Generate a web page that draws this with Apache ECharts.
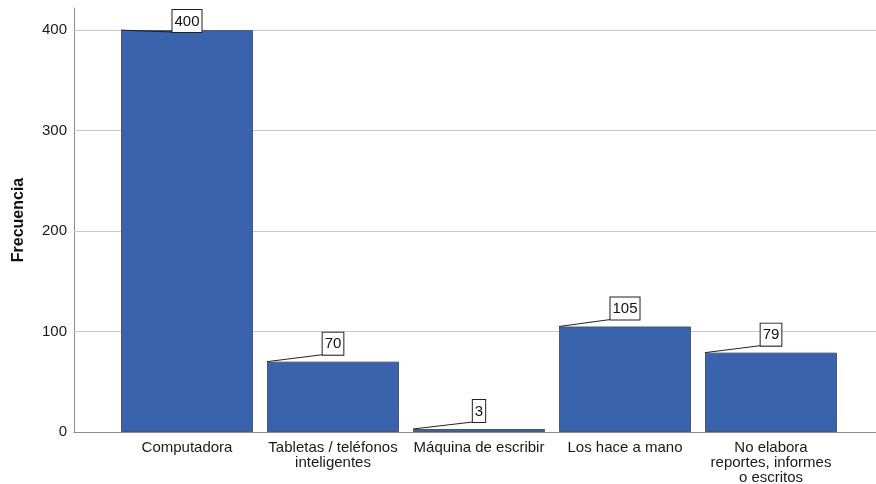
<!DOCTYPE html>
<html>
<head>
<meta charset="utf-8">
<script src="https://cdn.jsdelivr.net/npm/echarts@6/dist/echarts.min.js"></script>
<style>html,body{margin:0;padding:0;background:#fff;}#c{width:876px;height:484px;}</style>
</head>
<body>
<div id="c"></div>
<script>
const categories = ['Computadora', 'Tabletas / teléfonos\ninteligentes', 'Máquina de escribir', 'Los hace a mano', 'No elabora\nreportes, informes\no escritos'];
const frecuencias = [400, 70, 3, 105, 79];
const yTicks = [0, 100, 200, 300, 400];
const yMax = 422;
const yTitle = 'Frecuencia';

const FONT = '"Liberation Sans", Arial, sans-serif';
const measureCtx = document.createElement('canvas').getContext('2d');
measureCtx.font = '15px ' + FONT;

const chart = echarts.init(document.getElementById('c'), null, {renderer: 'canvas'});
const gridTop = 8, gridBottom = 52;

chart.setOption({
  animation: false,
  textStyle: {fontFamily: FONT},
  grid: [
    {left: 74, right: 0, top: gridTop, bottom: gridBottom, containLabel: false, outerBoundsMode: 'none'},
    {left: 114, right: 32, top: gridTop, bottom: gridBottom, containLabel: false, outerBoundsMode: 'none'}
  ],
  xAxis: [
    {gridIndex: 0, type: 'value', min: 0, max: 1,
     axisLine: {show: true, lineStyle: {color: '#8a8a8a', width: 1}},
     axisTick: {show: false}, axisLabel: {show: false}, splitLine: {show: false}},
    {gridIndex: 1, type: 'category', data: categories,
     axisLine: {show: false}, axisTick: {show: false}, splitLine: {show: false},
     axisLabel: {interval: 0, fontSize: 15, lineHeight: 15, color: '#1a1a1a', margin: 8, fontFamily: FONT}}
  ],
  yAxis: [
    {gridIndex: 0, type: 'value', min: 0, max: yMax, interval: 100,
     name: yTitle, nameLocation: 'middle', nameRotate: 90, nameGap: 47,
     nameTextStyle: {fontSize: 16, fontWeight: 'bold', color: '#111', fontFamily: FONT},
     axisLine: {show: true, lineStyle: {color: '#8a8a8a', width: 1}},
     axisTick: {show: false}, splitLine: {show: false},
     axisLabel: {showMaxLabel: false, fontSize: 15, color: '#1a1a1a', margin: 7, fontFamily: FONT}},
    {gridIndex: 1, type: 'value', min: 0, max: yMax, show: false}
  ],
  series: [
    {type: 'line', xAxisIndex: 0, yAxisIndex: 0, data: [], silent: true, z: 1,
     markLine: {silent: true, symbol: 'none', z: 1, label: {show: false},
       lineStyle: {color: '#c8c8c8', width: 1, type: 'solid'},
       data: yTicks.filter(v => v > 0).map(v => ({yAxis: v}))}},
    {type: 'bar', xAxisIndex: 1, yAxisIndex: 1, data: frecuencias, barWidth: 132, z: 3,
     itemStyle: {color: '#3a63ad', borderColor: '#4a5770', borderWidth: 1}},
    {type: 'custom', xAxisIndex: 1, yAxisIndex: 1, z: 5,
     data: frecuencias.map((v, i) => [i, v]),
     renderItem: function (params, api) {
       const p = api.coord([api.value(0), api.value(1)]);
       const x0 = p[0] - 66, y0 = p[1];
       const txt = String(api.value(1));
       const tw = measureCtx.measureText(txt).width;
       const padL = 2, padR = 2;
       const boxW = tw + padL + padR;
       const boxBottom = Math.max(y0 - 7, params.coordSys.y + 24);
       const boxLeft = p[0] - boxW / 2;
       return {
         type: 'group',
         children: [
           {type: 'line', shape: {x1: x0, y1: y0, x2: boxLeft, y2: boxBottom},
            style: {stroke: '#222', lineWidth: 1}},
           {type: 'text', x: p[0], y: boxBottom,
            style: {text: txt, align: 'center', verticalAlign: 'bottom',
              font: '15px ' + FONT, fill: '#111', backgroundColor: '#fff',
              borderColor: '#222', borderWidth: 1, padding: [3, padR, 2, padL], lineHeight: 17}}
         ]
       };
     }}
  ]
});
</script>
</body>
</html>
